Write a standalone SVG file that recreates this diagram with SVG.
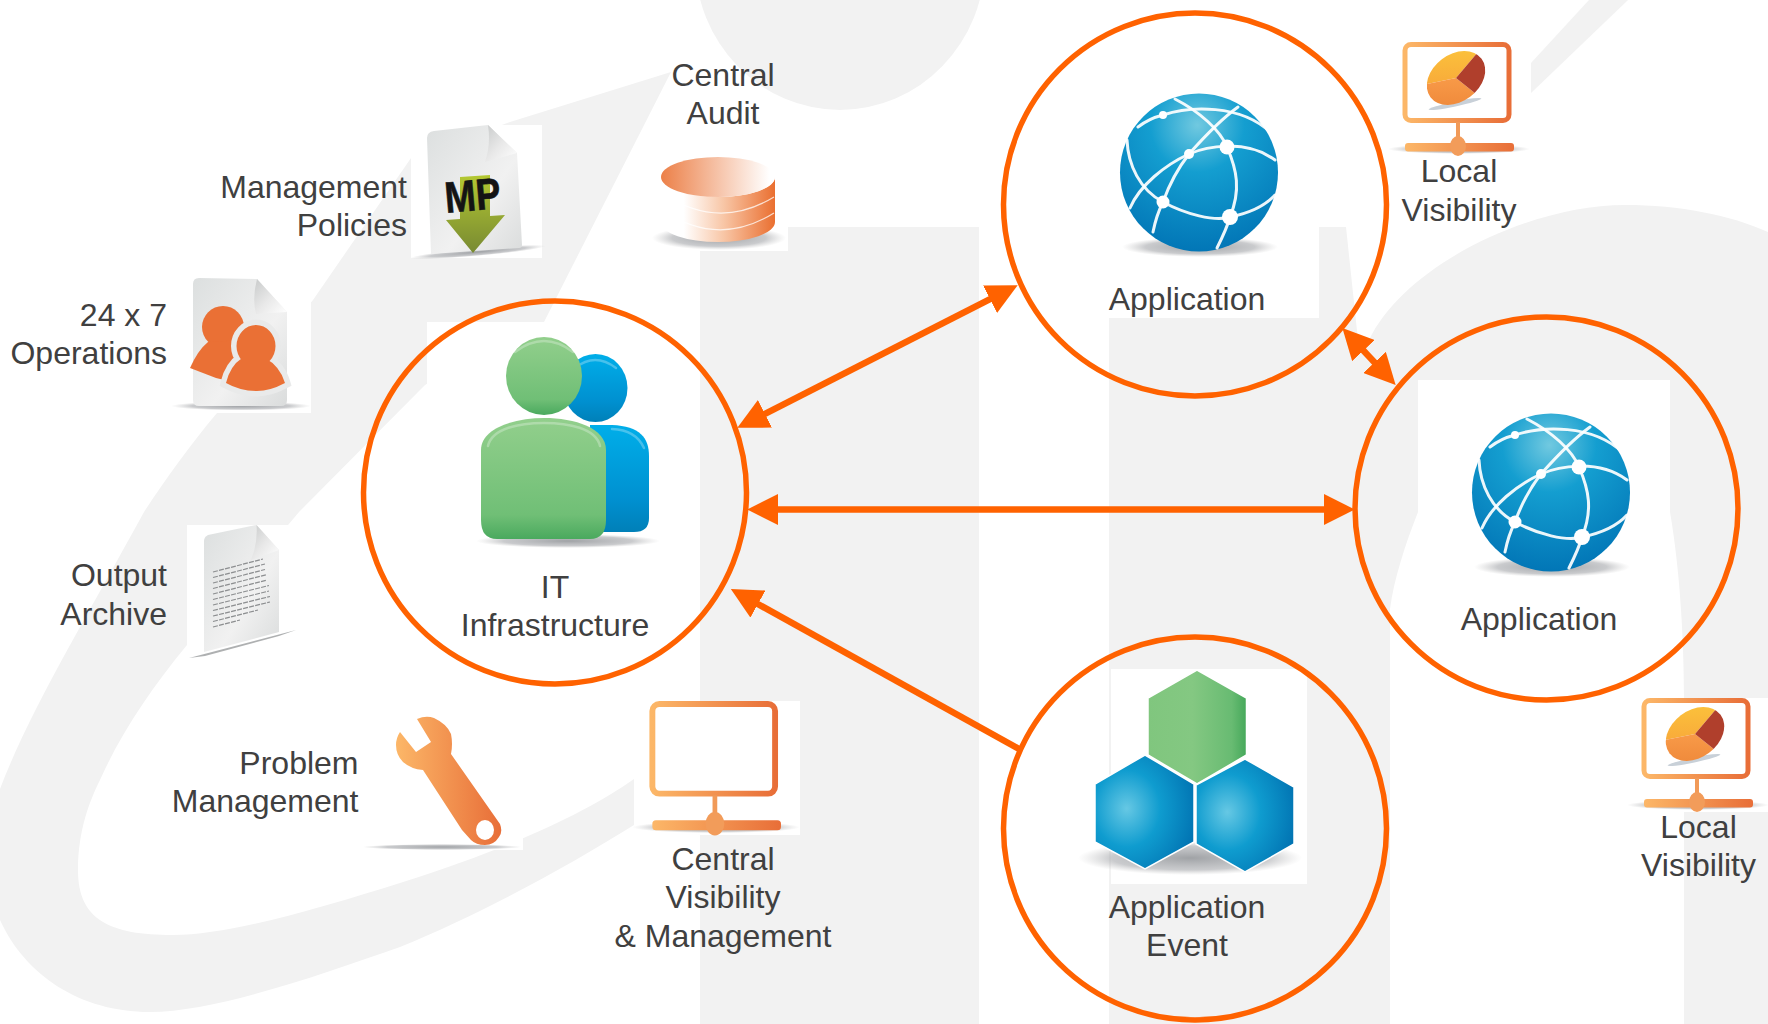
<svg xmlns="http://www.w3.org/2000/svg" width="1768" height="1024" viewBox="0 0 1768 1024">
<style>
text{font-family:"Liberation Sans",Arial,sans-serif;font-size:32px;fill:#404040}
.m{text-anchor:middle}.e{text-anchor:end}
.bg{fill:#f2f2f2}.w{fill:#fff}
.ring{fill:none;stroke:#ff6200;stroke-width:5.5}
.conn{fill:none;stroke:#ff6200;stroke-width:6.500}
.fold{fill:url(#gFold)}
.net{fill:none;stroke:#fff;stroke-opacity:.92;stroke-width:3;stroke-linecap:round}
.shadow{fill:url(#gShadow)}
.hex{stroke:#fff;stroke-width:1.5}
.gloss{fill:none;stroke:#fff;stroke-opacity:.28;stroke-width:2.500;stroke-linecap:round}
</style>
<defs>
<marker id="head" markerUnits="userSpaceOnUse" markerWidth="31" markerHeight="31" viewBox="0 0 28 28" refX="2" refY="14" orient="auto-start-reverse"><path d="M0,0L28,14L0,28Z" fill="#ff6200"/></marker>
<linearGradient id="gOrange" x1="0" y1="0" x2="1" y2="0"><stop offset="0" stop-color="#fcb768"/><stop offset="1" stop-color="#e86e38"/></linearGradient>
<radialGradient id="gShadow"><stop offset="0" stop-color="#8f9296" stop-opacity=".85"/><stop offset=".7" stop-color="#a6a8ac" stop-opacity=".6"/><stop offset="1" stop-color="#c0c0c0" stop-opacity="0"/></radialGradient>
<linearGradient id="gGreen" x1="0" y1="0" x2="0" y2="1"><stop offset="0" stop-color="#92cf8c"/><stop offset=".8" stop-color="#70bf76"/><stop offset="1" stop-color="#4aa95e"/></linearGradient>
<linearGradient id="gBlue" x1="0" y1="0" x2="0" y2="1"><stop offset="0" stop-color="#00aee9"/><stop offset=".7" stop-color="#0090d0"/><stop offset="1" stop-color="#0080b8"/></linearGradient>
<radialGradient id="gGlobe" cx=".49" cy=".2" r=".85"><stop offset="0" stop-color="#71c9e0"/><stop offset=".35" stop-color="#149ed0"/><stop offset="1" stop-color="#0072b4"/></radialGradient>
<linearGradient id="gDoc" x1="0" y1="0" x2="1" y2="1"><stop offset="0" stop-color="#dcdfdf"/><stop offset=".6" stop-color="#f1f1f1"/><stop offset="1" stop-color="#dadcdc"/></linearGradient>
<linearGradient id="gFold" x1="0" y1="0" x2="1" y2="1"><stop offset="0" stop-color="#c8caca"/><stop offset=".5" stop-color="#e8e8e8"/><stop offset="1" stop-color="#fff"/></linearGradient>
<linearGradient id="gDbTop" x1="0" y1="0" x2="1" y2="0"><stop offset="0" stop-color="#ec8048"/><stop offset=".95" stop-color="#fff"/></linearGradient>
<linearGradient id="gDbBody" x1="0" y1="0" x2="1" y2="0"><stop offset="0" stop-color="#fff"/><stop offset=".2" stop-color="#fff"/><stop offset=".55" stop-color="#f8c6a6"/><stop offset="1" stop-color="#ea6f30"/></linearGradient>
<linearGradient id="gArrow" x1="0" y1="0" x2="0" y2="1"><stop offset="0" stop-color="#b4c832"/><stop offset="1" stop-color="#788a32"/></linearGradient>
<linearGradient id="gHexG" x1="0" y1="0" x2="1" y2="0"><stop offset="0" stop-color="#80c67e"/><stop offset=".45" stop-color="#84c882"/><stop offset=".85" stop-color="#68bb72"/><stop offset="1" stop-color="#45a85a"/></linearGradient>
<radialGradient id="gHexB" cx=".32" cy=".47" r=".75"><stop offset="0" stop-color="#66c8e4"/><stop offset=".45" stop-color="#0f9ccf"/><stop offset="1" stop-color="#0070b0"/></radialGradient>
<linearGradient id="gPieY" x1="0" y1="0" x2="0" y2="1"><stop offset="0" stop-color="#fdcc3c"/><stop offset="1" stop-color="#f8a83a"/></linearGradient>
<linearGradient id="gPieO" x1="0" y1="0" x2="0" y2="1"><stop offset="0" stop-color="#f89a48"/><stop offset="1" stop-color="#e87c30"/></linearGradient>
<clipPath id="pieClip"><ellipse cx="53" cy="36" rx="32" ry="23.500" transform="rotate(-37 53 36)"/></clipPath>
<g id="monitor">
<ellipse class="shadow" cx="56" cy="107" rx="71" ry="5"/>
<rect x="2" y="2.500" width="104" height="76" rx="6" fill="#fff" stroke="url(#gOrange)" stroke-width="5"/>
<rect x="53" y="80" width="4" height="22" fill="#f19a58"/>
<rect x="2" y="101" width="109" height="8.500" rx="3" fill="url(#gOrange)"/>
<ellipse cx="55" cy="104" rx="8" ry="10" fill="#f29c5a"/>
</g>
<g id="pie">
<ellipse cx="52" cy="62" rx="27" ry="2.500" fill="#c8d0d8" transform="rotate(-12 52 62)"/>
<g clip-path="url(#pieClip)">
<path d="M53,36L92,-10L0,-10L-1,47Z" fill="url(#gPieY)"/>
<path d="M53,36L-1,47L0,90L100,90L88,64Z" fill="url(#gPieO)"/>
<path d="M53,36L92,-10L110,30L88,64Z" fill="#b03f2c"/>
</g>
</g>
<g id="globe">
<ellipse class="shadow" cx="1200" cy="247" rx="78" ry="10"/>
<circle cx="1199" cy="172.500" r="79" fill="url(#gGlobe)"/>
<path class="net" d="M1175,99C1200,112 1220,130 1227,147C1237,170 1241,190 1230,217C1227,228 1222,238 1217,248"/>
<path class="net" d="M1138,127C1147,120 1155,117 1163,115C1190,106 1240,104 1270,132"/>
<path class="net" d="M1238,107C1220,120 1205,136 1189,154C1175,172 1168,188 1163,202C1158,212 1155,222 1153,232"/>
<path class="net" d="M1130,208C1140,185 1165,165 1189,154C1205,147 1245,138 1275,160"/>
<path class="net" d="M1127,140C1128,165 1140,190 1163,202C1185,214 1215,222 1230,217C1250,213 1265,206 1275,195"/>
<g fill="#fff"><circle cx="1163" cy="115" r="4"/><circle cx="1227" cy="147" r="7.500"/><circle cx="1189" cy="154" r="5"/><circle cx="1163" cy="202" r="6.500"/><circle cx="1230" cy="217" r="8"/></g>
</g>
</defs>

<g id="background">
<ellipse class="bg" cx="840" cy="-40" rx="145" ry="150"/>
<path class="bg" d="M671,72L510,122L411,158L313,300L217,413C190,445 165,480 144,512C85,620 30,710 0,789L0,920C25,975 80,1012 150,1012C215,1012 320,975 400,947C480,915 570,865 634,825L700,825L700,760L634,779C590,810 520,845 400,883C320,908 230,935 173,935C110,935 78,920 78,870C78,830 90,800 100,780C120,735 150,690 187,645L299,512L425,385L500,340L544,322Z"/>
<rect class="bg" x="700" y="227" width="279" height="797"/>
<path class="bg" d="M1109,227L1346,227L1358,340L1369,340C1405,265 1530,205 1625,205C1680,205 1730,215 1768,232L1768,1024L1684,1024L1684,699C1684,640 1680,570 1670,512C1655,440 1600,400 1540,400C1470,400 1425,450 1418,512C1405,545 1394,579 1390,609L1390,1024L1109,1024Z"/>
<path class="bg" d="M1589,0L1628,0L1531,93L1531,63Z"/>
<g class="w">
<rect x="411" y="125" width="131" height="133"/>
<rect x="651" y="157" width="137" height="94"/>
<rect x="172" y="278" width="139" height="135"/>
<rect x="427" y="322" width="273" height="330"/>
<rect x="187" y="525" width="101" height="135"/>
<rect x="365" y="710" width="158" height="140"/>
<rect x="634" y="701" width="166" height="134"/>
<rect x="1108" y="220" width="211" height="98"/>
<rect x="1418" y="380" width="252" height="180"/>
<rect x="1111" y="669" width="196" height="215"/>
<rect x="1395" y="35" width="136" height="125"/>
<rect x="1631" y="698" width="137" height="114"/>
</g>
</g>

<g id="connectors">
<line class="conn" x1="763" y1="414.800" x2="992" y2="298.200" marker-start="url(#head)" marker-end="url(#head)"/>
<line class="conn" x1="776" y1="509.500" x2="1326" y2="509.500" marker-start="url(#head)" marker-end="url(#head)"/>
<line class="conn" x1="1362" y1="349" x2="1376" y2="364" marker-start="url(#head)" marker-end="url(#head)"/>
<line class="conn" x1="756" y1="603" x2="1019" y2="749" marker-start="url(#head)"/>
</g>

<g id="node-it">
<circle class="ring" cx="555" cy="492.500" r="191.500"/>
<ellipse class="shadow" cx="568" cy="541" rx="92" ry="7"/>
<ellipse cx="595.500" cy="388" rx="32" ry="34" fill="url(#gBlue)"/>
<path d="M590,425L612,425C640,426 649,438 649,456L649,518Q649,532 634,532L590,532Z" fill="url(#gBlue)"/>
<path class="gloss" d="M575,368Q595,352 616,368M612,429Q636,430 644,448"/>
<ellipse cx="544" cy="376" rx="38" ry="39" fill="url(#gGreen)"/>
<path d="M481,450C481,428 515,418 544,418C575,418 606,428 606,450L606,520Q606,539 590,539L497,539Q481,539 481,520Z" fill="url(#gGreen)"/>
<path class="gloss" d="M515,352Q544,330 573,352M488,446C492,428 520,423 544,423C568,423 596,428 600,446"/>
<text class="m" x="555" y="598">IT</text>
<text class="m" x="555" y="636">Infrastructure</text>
</g>

<g id="node-app1">
<circle class="ring" cx="1195" cy="204.500" r="191.500"/>
<use href="#globe"/>
<text class="m" x="1187" y="310">Application</text>
</g>

<g id="node-app2">
<circle class="ring" cx="1546.500" cy="508.500" r="191.500"/>
<use href="#globe" transform="translate(352 320)"/>
<text class="m" x="1539" y="630">Application</text>
</g>

<g id="node-event">
<circle class="ring" cx="1195" cy="828.500" r="191.500"/>
<ellipse class="shadow" cx="1190" cy="858" rx="112" ry="17"/>
<path class="hex" d="M1197,670L1246.500,698L1246.500,755L1197,784L1148,755L1148,698Z" fill="url(#gHexG)"/>
<path class="hex" d="M1145,755L1194,784L1194,842L1145,869L1095,842L1095,784Z" fill="url(#gHexB)"/>
<path class="hex" d="M1245,759L1294,787L1294,844L1245,872L1196,844L1196,785Z" fill="url(#gHexB)"/>
<text class="m" x="1187" y="918">Application</text>
<text class="m" x="1187" y="956">Event</text>
</g>

<g id="node-local1">
<use href="#monitor" transform="translate(1403 42)"/>
<use href="#pie" transform="translate(1403 42)"/>
<text class="m" x="1459" y="182">Local</text>
<text class="m" x="1459" y="221">Visibility</text>
</g>

<g id="node-local2">
<use href="#monitor" transform="translate(1642 698)"/>
<use href="#pie" transform="translate(1642 698)"/>
<text class="m" x="1698.500" y="838">Local</text>
<text class="m" x="1698.500" y="876">Visibility</text>
</g>

<g id="node-central-visibility">
<use href="#monitor" transform="translate(650 701) scale(1.18)"/>
<text class="m" x="723" y="870">Central</text>
<text class="m" x="723" y="908">Visibility</text>
<text class="m" x="723" y="947">&amp; Management</text>
</g>

<g id="node-audit">
<ellipse class="shadow" cx="719" cy="238" rx="67" ry="12"/>
<path d="M661,177L661,222A57,20 0 0 0 775,222L775,177A57,20 0 0 1 661,177Z" fill="url(#gDbBody)"/>
<path d="M662,193Q718,231 774,197M662,210Q718,248 774,213" fill="none" stroke="#fff" stroke-opacity=".75" stroke-width="1.200"/>
<ellipse cx="718" cy="177" rx="57" ry="20" fill="url(#gDbTop)"/>
<text class="m" x="723" y="86">Central</text>
<text class="m" x="723" y="124">Audit</text>
</g>

<g id="node-policies">
<ellipse class="shadow" cx="478" cy="252" rx="68" ry="4" transform="rotate(-5 478 252)"/>
<path d="M427,138Q427,132 434,131L488,125L517,153L522,245Q522,248 519,248L431,254Z" fill="url(#gDoc)"/>
<path class="fold" d="M488,125L517,153L485,162Q491,145 488,125Z"/>
<path d="M460,177L490,175L490,216L505,215L473,253L446,220L460,219Z" fill="url(#gArrow)"/>
<text x="446" y="213" font-weight="700" style="font-size:44px;fill:#141414;stroke:#141414;stroke-width:.6" textLength="56" lengthAdjust="spacingAndGlyphs" transform="rotate(-5 446 213)">MP</text>
<text class="e" x="407" y="198">Management</text>
<text class="e" x="407" y="236">Policies</text>
</g>

<g id="node-operations">
<ellipse class="shadow" cx="241" cy="406" rx="70" ry="4.500"/>
<path d="M193,284Q193,278 199,278L257,279L287,312L287,400Q287,406 281,406L199,406Q193,406 193,400Z" fill="url(#gDoc)"/>
<path class="fold" d="M257,279L287,312L256,314Q252,298 257,279Z"/>
<g fill="#ea7035">
<ellipse cx="223" cy="327" rx="21" ry="21"/>
<path d="M190,368Q198,350 208,342L245,340L245,385L216,378Z"/>
<path d="M236.500,346a19.500,21 0 1 1 39,0a19.500,21 0 1 1 -39,0ZM226,383Q230,366 242,358L265,358Q280,366 285,383Q270,391 257,391Q240,391 226,383Z" stroke="#e9eaea" stroke-width="11" paint-order="stroke"/>
</g>
<text class="e" x="167" y="326">24 x 7</text>
<text class="e" x="167" y="364">Operations</text>
</g>

<g id="node-archive">
<path d="M189,658L296,630L279,636L205,656Z" fill="#9a9c9e" opacity=".8"/>
<path d="M204,541Q204,537 208,535L256.500,525L279,550L279,632L204,652Z" fill="url(#gDoc)"/>
<path class="fold" d="M256.500,525L279,550L251,560Q258,543 256.500,525Z"/>
<path d="M213,572L263,559M213,577.500L265,564M213,583L265,569.500M213,588.500L267,574.500M213,594L267,580M213,599.500L269,585.500M213,605L269,591M213,610.500L270,596.500M213,616L270,602M213,621.500L258,610M213,627L240,620" stroke="#8c8e90" stroke-width="1.200" stroke-dasharray="5 1.200" fill="none"/>
<text class="e" x="167" y="586">Output</text>
<text class="e" x="167" y="625">Archive</text>
</g>

<g id="node-problem">
<ellipse class="shadow" cx="442" cy="847" rx="80" ry="3"/>
<path d="M417,719Q426,715 434,718Q447,724 451,734Q453,744 451,754L500,824Q503,832 499,837Q494,845 485,845Q476,845 471,840L462,830L423,770Q411,769 403,762Q396,755 396,745Q396,738 400,732L416,752L431,742Z" fill="url(#gOrange)"/>
<ellipse cx="485" cy="830" rx="9" ry="10" fill="#fff"/>
<text class="e" x="358.500" y="774">Problem</text>
<text class="e" x="358.500" y="812">Management</text>
</g>
</svg>
